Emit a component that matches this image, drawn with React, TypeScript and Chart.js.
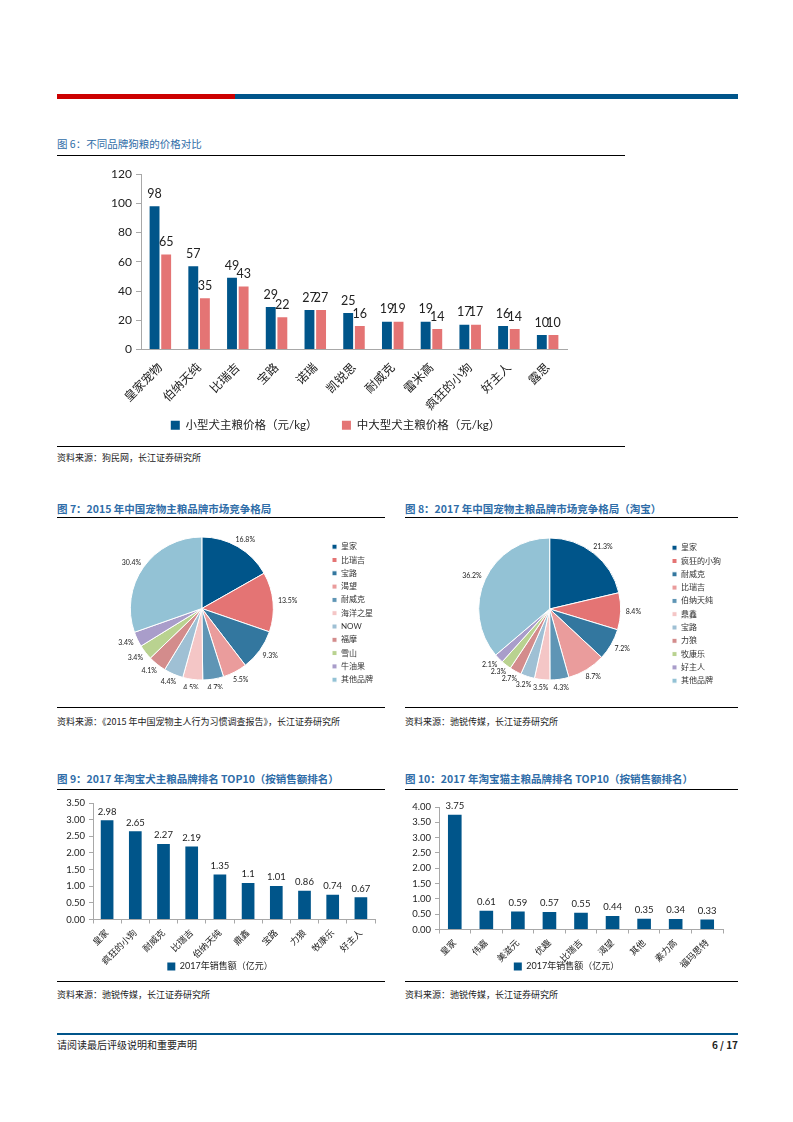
import React, { useEffect, useRef } from "react";
import { Chart, registerables } from "chart.js";
Chart.register(...registerables);

const FONT = "Lato, 'Noto Sans CJK SC', sans-serif";
const CJK = "'Noto Sans CJK SC', 'Noto Sans', sans-serif";
const DARK = "#00558A";
const PINK = "#E47474";
const AXIS = "#A8A8A8";
const TXT = "#222222";
const TITLE = "#2F6DA8";

// ---- Fig 6 ----
const brands6 = ["皇家宠物", "伯纳天纯", "比瑞吉", "宝路", "诺瑞", "凯锐思", "耐威克", "雷米高", "疯狂的小狗", "好主人", "露思"];
const small6 = [98, 57, 49, 29, 27, 25, 19, 19, 17, 16, 10];
const large6 = [65, 35, 43, 22, 27, 16, 19, 14, 17, 14, 10];
const series6 = ["小型犬主粮价格（元/kg）", "中大型犬主粮价格（元/kg）"];

// ---- Fig 7 ----
const brands7 = ["皇家", "比瑞吉", "宝路", "渴望", "耐威克", "海洋之星", "NOW", "福摩", "雪山", "牛油果", "其他品牌"];
const shares7 = [16.8, 13.5, 9.3, 5.5, 4.7, 4.5, 4.4, 4.1, 3.4, 3.4, 30.4];

// ---- Fig 8 ----
const brands8 = ["皇家", "疯狂的小狗", "耐威克", "比瑞吉", "伯纳天纯", "鼎鑫", "宝路", "力狼", "牧康乐", "好主人", "其他品牌"];
const shares8 = [21.3, 8.4, 7.2, 8.7, 4.3, 3.5, 3.2, 2.7, 2.3, 2.1, 36.2];

const pieColors = ["#00558A", "#E47474", "#33779F", "#EA9C9C", "#5F95B5", "#F4C6C6", "#9FC0D4", "#D38C8C", "#B9D290", "#A99DCA", "#93C2D5"];

// ---- Fig 9 ----
const brands9 = ["皇家", "疯狂的小狗", "耐威克", "比瑞吉", "伯纳天纯", "鼎鑫", "宝路", "力狼", "牧康乐", "好主人"];
const sales9 = [2.98, 2.65, 2.27, 2.19, 1.35, 1.1, 1.01, 0.86, 0.74, 0.67];

// ---- Fig 10 ----
const brands10 = ["皇家", "伟嘉", "美滋元", "优趣", "比瑞吉", "渴望", "其他", "素力高", "福玛思特"];
const sales10 = [3.75, 0.61, 0.59, 0.57, 0.55, 0.44, 0.35, 0.34, 0.33];
const series910 = "2017年销售额（亿元）";

function valueLabels(size: number, offset: number) {
  return {
    id: "valueLabels",
    afterDatasetsDraw(chart: any) {
      const ctx = chart.ctx;
      ctx.save();
      ctx.font = `${size}px ${FONT}`;
      ctx.fillStyle = TXT;
      ctx.textAlign = "center";
      ctx.textBaseline = "bottom";
      chart.data.datasets.forEach((ds: any, di: number) => {
        const meta = chart.getDatasetMeta(di);
        meta.data.forEach((el: any, i: number) => {
          ctx.fillText(String(ds.data[i]), el.x, el.y - offset);
        });
      });
      ctx.restore();
    },
  };
}

// let rotated x tick labels run past the (deliberately short) axis box, as in the source
const unclipX = {
  id: "unclipX",
  afterLayout(chart: any) {
    const x = chart.scales.x;
    if (x) x.bottom = chart.height;
  },
};

const pieLabels = {
  id: "pieLabels",
  afterDatasetsDraw(chart: any) {
    const ctx = chart.ctx;
    ctx.save();
    ctx.font = `7px ${FONT}`;
    ctx.fillStyle = TXT;
    ctx.textAlign = "center";
    ctx.textBaseline = "middle";
    const meta = chart.getDatasetMeta(0);
    const ds = chart.data.datasets[0];
    meta.data.forEach((arc: any, i: number) => {
      const p = arc.getProps(["x", "y", "startAngle", "endAngle", "outerRadius"], true);
      const mid = (p.startAngle + p.endAngle) / 2;
      const txt = Number(ds.data[i]).toFixed(1) + "%";
      const w = ctx.measureText(txt).width;
      const h = 7;
      const r = p.outerRadius + 5;
      const ax = p.x + Math.cos(mid) * r;
      const ay = p.y + Math.sin(mid) * r;
      ctx.fillText(txt, ax + (Math.cos(mid) * w) / 2, ay + (Math.sin(mid) * h) / 2);
    });
    ctx.restore();
  },
};

function ChartBox({ left, top, width, height, make }: { left: number; top: number; width: number; height: number; make: () => any }) {
  const ref = useRef<HTMLCanvasElement>(null);
  useEffect(() => {
    const c = new Chart(ref.current as HTMLCanvasElement, make());
    return () => c.destroy();
  }, []);
  return (
    <canvas
      ref={ref}
      width={width}
      height={height}
      style={{ position: "absolute", left, top, width, height }}
    />
  );
}

function barFig6() {
  return {
    type: "bar",
    data: {
      labels: brands6,
      datasets: [
        { label: series6[0], data: small6, backgroundColor: DARK, borderWidth: 0, categoryPercentage: 0.6, barPercentage: 0.85 },
        { label: series6[1], data: large6, backgroundColor: PINK, borderWidth: 0, categoryPercentage: 0.6, barPercentage: 0.85 },
      ],
    },
    options: {
      responsive: false,
      animation: false,
      events: [],
      devicePixelRatio: 1,
      layout: { padding: { top: 14, right: 2, left: 0, bottom: 0 } },
      plugins: {
        tooltip: { enabled: false },
        legend: {
          position: "bottom",
          labels: {
            boxWidth: 9,
            boxHeight: 9,
            padding: 10,
            color: TXT,
            font: { size: 11.5, family: FONT },
            generateLabels: (chart: any) =>
              (Chart.defaults.plugins.legend.labels.generateLabels as any)(chart).map((l: any, i: number) => ({
                ...l,
                text: i === 0 ? l.text + "\u2003\u2002" : l.text,
              })),
          },
        },
      },
      scales: {
        x: {
          grid: { display: false },
          border: { display: true, color: AXIS },
          ticks: { color: TXT, font: { size: 12, family: FONT }, minRotation: 45, maxRotation: 45, autoSkip: false, padding: 3 },
          afterFit: (s: any) => { s.height = 60; },
        },
        y: {
          min: 0,
          max: 120,
          ticks: { stepSize: 20, color: TXT, font: { size: 12, family: FONT }, padding: 4 },
          grid: { display: true, drawOnChartArea: false, tickLength: 5, color: AXIS },
          border: { display: true, color: AXIS },
          afterFit: (s: any) => { s.width = 37; },
        },
      },
    },
    plugins: [valueLabels(12.5, 6), unclipX],
  };
}

function pieFig(labels: string[], data: number[], radius: number, padLeft: number) {
  return () => ({
    type: "pie",
    data: {
      labels,
      datasets: [{ data, backgroundColor: pieColors, borderColor: "#ffffff", borderWidth: 1, radius }],
    },
    options: {
      responsive: false,
      animation: false,
      events: [],
      devicePixelRatio: 1,
      layout: { padding: { left: padLeft, top: 0, bottom: 0, right: 0 } },
      plugins: {
        tooltip: { enabled: false },
        legend: {
          position: "right",
          align: "end",
          labels: { boxWidth: 5, boxHeight: 5, padding: 5.3, color: "#333", font: { size: 8, family: FONT } },
        },
      },
    },
    plugins: [pieLabels],
  });
}

function salesFig(labels: string[], data: number[], max: number, yWidth: number, xHeight: number, padTop: number, padRight: number, barPct: number) {
  return () => ({
    type: "bar",
    data: {
      labels,
      datasets: [{ label: series910, data, backgroundColor: DARK, borderWidth: 0, categoryPercentage: 0.9, barPercentage: barPct }],
    },
    options: {
      responsive: false,
      animation: false,
      events: [],
      devicePixelRatio: 1,
      layout: { padding: { top: padTop, right: padRight, left: 0, bottom: 0 } },
      plugins: {
        tooltip: { enabled: false },
        legend: {
          position: "bottom",
          labels: { boxWidth: 8, boxHeight: 8, padding: 6, color: TXT, font: { size: 9, family: FONT } },
        },
      },
      scales: {
        x: {
          grid: { display: true, drawOnChartArea: false, tickLength: 4, color: AXIS },
          border: { display: true, color: AXIS },
          ticks: { color: TXT, font: { size: 9, family: FONT }, minRotation: 45, maxRotation: 45, autoSkip: false, padding: 4 },
          afterFit: (s: any) => { s.height = xHeight; },
        },
        y: {
          min: 0,
          max,
          ticks: { stepSize: 0.5, color: TXT, font: { size: 9.5, family: FONT }, padding: 4, callback: (v: any) => Number(v).toFixed(2) },
          grid: { display: true, drawOnChartArea: false, tickLength: 4, color: AXIS },
          border: { display: true, color: AXIS },
          afterFit: (s: any) => { s.width = yWidth; },
        },
      },
    },
    plugins: [valueLabels(9.5, 4), unclipX],
  });
}

function Text({ x, y, size, color = TXT, bold = false, children, right = false }: any) {
  const lh = Math.round(size * 1.4);
  const style: any = {
    position: "absolute",
    top: y - lh / 2,
    fontFamily: CJK,
    fontSize: size,
    lineHeight: `${lh}px`,
    color,
    fontWeight: bold ? 700 : 400,
    whiteSpace: "nowrap",
  };
  if (right) {
    style.left = 0;
    style.width = x;
    style.textAlign = "right";
  } else {
    style.left = x;
  }
  return <div style={style}>{children}</div>;
}

function HLine({ x1, x2, y, color = "#000", w = 1 }: any) {
  return <div style={{ position: "absolute", left: x1, top: y - w / 2, width: x2 - x1, height: w, background: color }} />;
}

export default function App() {
  return (
    <div style={{ position: "absolute", left: 0, top: 0, width: 793, height: 1122, background: "#fff", overflow: "hidden" }}>
      {/* header bar */}
      <div style={{ position: "absolute", left: 57, top: 94, width: 178, height: 5, background: "#CC0000" }} />
      <div style={{ position: "absolute", left: 235, top: 94, width: 503, height: 5, background: "#00558A" }} />

      {/* Fig 6 */}
      <Text x={57} y={143} size={10.5} color={TITLE}>图 6：不同品牌狗粮的价格对比</Text>
      <HLine x1={57} x2={625} y={155} />
      <ChartBox left={104} top={160} width={465} height={281} make={barFig6} />
      <HLine x1={57} x2={625} y={446} />
      <Text x={57} y={457} size={9}>资料来源：狗民网，长江证券研究所</Text>

      {/* Fig 7 */}
      <Text x={57} y={508} size={10.5} color={TITLE} bold>图 7：2015 年中国宠物主粮品牌市场竞争格局</Text>
      <HLine x1={57} x2={385} y={517.5} />
      <ChartBox left={57} top={528} width={326} height={161} make={pieFig(brands7, shares7, 71.5, 20)} />
      <HLine x1={57} x2={385} y={707} />
      <Text x={57} y={721.5} size={9}>资料来源：《2015 年中国宠物主人行为习惯调查报告》，长江证券研究所</Text>

      {/* Fig 8 */}
      <Text x={405} y={508} size={10.5} color={TITLE} bold>图 8：2017 年中国宠物主粮品牌市场竞争格局（淘宝）</Text>
      <HLine x1={405} x2={738} y={517.5} />
      <ChartBox left={405} top={528} width={326} height={162} make={pieFig(brands8, shares8, 71, 27.7)} />
      <HLine x1={405} x2={738} y={707} />
      <Text x={405} y={721.5} size={9}>资料来源：驰锐传媒，长江证券研究所</Text>

      {/* Fig 9 */}
      <Text x={57} y={778} size={10.5} color={TITLE} bold>图 9：2017 年淘宝犬主粮品牌排名 TOP10（按销售额排名）</Text>
      <HLine x1={57} x2={385} y={789} />
      <ChartBox left={65} top={793} width={320} height={188} make={salesFig(brands9, sales9, 3.5, 28, 36.5, 10, 10, 0.5)} />
      <HLine x1={57} x2={385} y={981} />
      <Text x={57} y={994} size={9}>资料来源：驰锐传媒，长江证券研究所</Text>

      {/* Fig 10 */}
      <Text x={405} y={778} size={10.5} color={TITLE} bold>图 10：2017 年淘宝猫主粮品牌排名 TOP10（按销售额排名）</Text>
      <HLine x1={405} x2={738} y={789} />
      <ChartBox left={410} top={795} width={320} height={186} make={salesFig(brands10, sales10, 4, 29, 26.5, 12, 7, 0.48)} />
      <HLine x1={405} x2={738} y={981} />
      <Text x={405} y={994} size={9}>资料来源：驰锐传媒，长江证券研究所</Text>

      {/* footer */}
      <HLine x1={57} x2={738} y={1034} color="#00558A" w={1.5} />
      <Text x={57} y={1045} size={10}>请阅读最后评级说明和重要声明</Text>
      <Text x={738} y={1045} size={10} bold right>6 / 17</Text>
    </div>
  );
}
